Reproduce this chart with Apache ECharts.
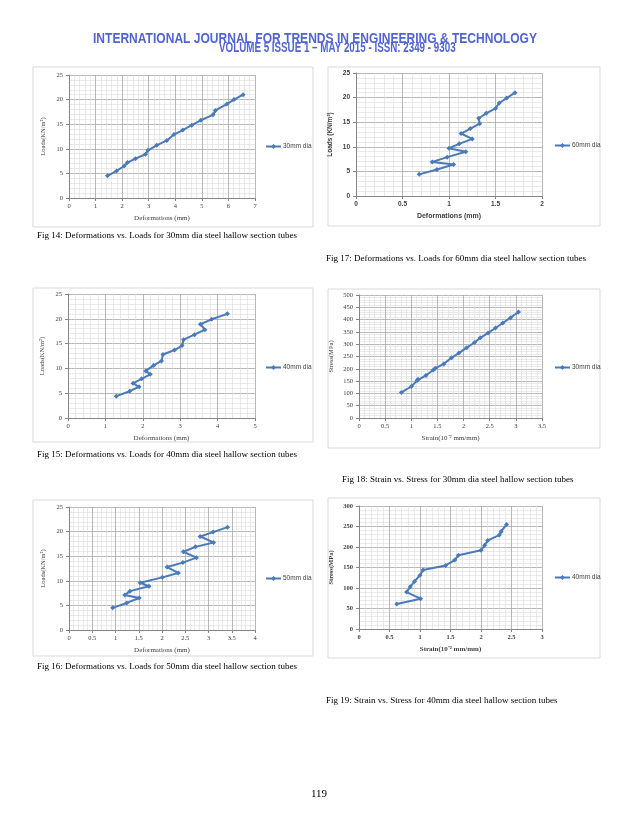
<!DOCTYPE html>
<html><head><meta charset="utf-8">
<script src="https://cdn.jsdelivr.net/npm/echarts@6/dist/echarts.min.js"></script>
<style>html,body{margin:0;padding:0;background:#fff}#c{width:638px;height:826px}</style>
</head><body><div id="c"></div>
<script>
// Fig 14: 30mm dia deformation vs load
const def30 = [1.45,1.79,2.08,2.2,2.5,2.88,2.97,3.3,3.68,3.95,4.28,4.62,4.96,5.42,5.51,5.94,6.21,6.55];
const loads30 = [4.5,5.5,6.5,7.2,8.0,8.9,9.7,10.7,11.7,12.9,13.8,14.8,15.8,16.9,17.8,19.1,20.0,21.0];
// Fig 17: 60mm dia
const def60 = [0.68,0.87,1.05,0.82,0.98,1.18,1.0,1.11,1.25,1.13,1.23,1.33,1.32,1.40,1.50,1.54,1.62,1.71];
const loads60 = [4.4,5.4,6.4,6.9,7.9,9.0,9.7,10.6,11.6,12.7,13.7,14.7,15.8,16.8,17.8,18.9,19.9,21.0];
// Fig 15: 40mm dia
const def40 = [1.29,1.65,1.90,1.74,1.97,2.20,2.08,2.29,2.50,2.54,2.85,3.05,3.09,3.38,3.66,3.54,3.84,4.26];
const loads40 = [4.4,5.4,6.3,7.0,7.9,8.8,9.5,10.6,11.5,12.8,13.7,14.6,15.8,16.8,17.8,18.9,19.9,21.0];
// Fig 18: 30mm strain vs stress
const strain30 = [0.81,1.0,1.11,1.13,1.28,1.42,1.46,1.62,1.77,1.91,2.06,2.21,2.32,2.47,2.61,2.75,2.90,3.05];
const stress30 = [104,128,152,158,173,195,202,220,245,264,286,307,326,346,366,386,408,431];
// Fig 16: 50mm dia
const def50 = [0.94,1.24,1.51,1.20,1.31,1.72,1.53,2.01,2.35,2.11,2.45,2.74,2.46,2.72,3.11,2.82,3.10,3.41];
const loads50 = [4.5,5.5,6.5,7.1,7.9,8.9,9.6,10.7,11.6,12.8,13.7,14.7,15.9,16.9,17.8,19.0,19.9,20.9];
// Fig 19: 40mm strain vs stress
const strain40 = [0.62,1.01,0.78,0.84,0.91,1.0,1.05,1.42,1.57,1.63,2.0,2.06,2.11,2.30,2.33,2.42];
const stress40 = [61,74,90,103,116,131,144,155,168,180,192,204,216,229,238,255];

const headerLine1 = "INTERNATIONAL JOURNAL FOR TRENDS IN ENGINEERING & TECHNOLOGY";
const headerLine2 = "VOLUME 5 ISSUE 1 \u2013 MAY 2015 - ISSN: 2349 - 9303";
const captions = [
  "Fig 14: Deformations vs. Loads for 30mm dia steel hallow section tubes",
  "Fig 17: Deformations vs. Loads for 60mm dia steel hallow section tubes",
  "Fig 15: Deformations vs. Loads for 40mm dia steel hallow section tubes",
  "Fig 18: Strain vs. Stress for 30mm dia steel hallow section tubes",
  "Fig 16: Deformations vs. Loads for 50mm dia steel hallow section tubes",
  "Fig 19: Strain vs. Stress for 40mm dia steel hallow section tubes"
];
const pageNumber = "119";

const SERIF = "'Liberation Serif','Times New Roman',serif";
const SANS = "'Liberation Sans',Arial,sans-serif";
const LINE = '#4a7ab8';

const charts = [
  {name:'30mm dia', xs:def30, ys:loads30, grid:[69,75,186,123], xmax:7, xint:1, ymax:25, yint:5,
   xname:'Deformations (mm)', yname:'Loads(KN/m\u00b2)', font:SERIF, bold:false, legend:[265,143], frame:[33,67,280,160]},
  {name:'60mm dia', xs:def60, ys:loads60, grid:[356,73,186,123], xmax:2, xint:0.5, ymax:25, yint:5,
   xname:'Deformations (mm)', yname:'Loads (KN/m\u00b2)', font:SANS, bold:true, legend:[554,142], frame:[328,67,272,159]},
  {name:'40mm dia', xs:def40, ys:loads40, grid:[68,294,187,124], xmax:5, xint:1, ymax:25, yint:5,
   xname:'Deformations (mm)', yname:'Loads(KN/m\u00b2)', font:SERIF, bold:false, legend:[265,364], frame:[33,288,280,154]},
  {name:'30mm dia', xs:strain30, ys:stress30, grid:[359,295,183,123], xmax:3.5, xint:0.5, ymax:500, yint:50,
   xname:'Strain(10\u207b\u00b2 mm/mm)', yname:'Stress(MPa)', font:SERIF, bold:false, legend:[554,364], frame:[328,289,272,159]},
  {name:'50mm dia', xs:def50, ys:loads50, grid:[69,507,186,123], xmax:4, xint:0.5, ymax:25, yint:5,
   xname:'Deformations (mm)', yname:'Loads(KN/m\u00b2)', font:SERIF, bold:false, legend:[265,575], frame:[33,500,280,156]},
  {name:'40mm dia', xs:strain40, ys:stress40, grid:[359,506,183,123], xmax:3, xint:0.5, ymax:300, yint:50,
   xname:'Strain(10\u207b\u00b2 mm/mm)', yname:'Stress(MPa)', font:SERIF, bold:true, legend:[554,574], frame:[328,498,272,160]}
];

const grid = [], xAxis = [], yAxis = [], series = [], legend = [], graphic = [];
charts.forEach((c, i) => {
  graphic.push({type:'rect', z:-10, shape:{x:c.frame[0], y:c.frame[1], width:c.frame[2], height:c.frame[3]},
    style:{fill:'#fff', stroke:'#d9d9d9', lineWidth:1}});
  grid.push({left:c.grid[0], top:c.grid[1], width:c.grid[2], height:c.grid[3], containLabel:false});
  const lab = {fontFamily:c.font, fontSize:6.5, color:'#404040', fontWeight:c.bold?'bold':'normal'};
  xAxis.push({type:'value', gridIndex:i, min:0, max:c.xmax, interval:c.xint,
    axisLine:{show:true, onZero:false, lineStyle:{color:'#868686', width:1}},
    axisTick:{show:true, length:3, lineStyle:{color:'#868686'}},
    axisLabel:Object.assign({margin:5}, lab),
    splitLine:{show:true, lineStyle:{color:'#a6a6a6', width:0.8}},
    minorTick:{show:false, splitNumber:5},
    minorSplitLine:{show:true, lineStyle:{color:'#dcdcdc', width:0.6}},
    name:c.xname, nameLocation:'middle', nameGap:17,
    nameTextStyle:Object.assign({}, lab, {fontSize:7})});
  yAxis.push({type:'value', gridIndex:i, min:0, max:c.ymax, interval:c.yint,
    axisLine:{show:true, onZero:false, lineStyle:{color:'#868686', width:1}},
    axisTick:{show:true, length:3, lineStyle:{color:'#868686'}},
    axisLabel:Object.assign({margin:6}, lab),
    splitLine:{show:true, lineStyle:{color:'#a6a6a6', width:0.8}},
    minorTick:{show:false, splitNumber:5},
    minorSplitLine:{show:true, lineStyle:{color:'#dcdcdc', width:0.6}},
    name:c.yname, nameLocation:'middle', nameGap:c.ymax>100?24:22, nameRotate:90,
    nameTextStyle:Object.assign({}, lab, {fontSize:6.5})});
  series.push({type:'line', name:c.name, xAxisIndex:i, yAxisIndex:i,
    data:c.xs.map((x, k) => [x, c.ys[k]]),
    symbol:'diamond', symbolSize:5, showSymbol:true,
    lineStyle:{color:LINE, width:2}, itemStyle:{color:LINE}, animation:false});
  legend.push({left:c.legend[0], top:c.legend[1], data:[c.name], itemWidth:15, itemHeight:6, itemGap:2,
    selectedMode:false, textStyle:{fontSize:6.5, fontFamily:SANS, color:'#404040', padding:[0,0,0,-3]}, padding:0});
});

const capPos = [[37,231],[326,254],[37,450],[342,475],[37,662],[326,696]];
captions.forEach((t, i) => {
  graphic.push({type:'text', left:capPos[i][0], top:capPos[i][1],
    style:{text:t, font:"9px 'Liberation Serif','Times New Roman',serif", fill:'#000'}});
});
const HFONT = "bold 14px 'Liberation Sans Narrow','Arial Narrow','Liberation Sans',sans-serif";
graphic.push({type:'text', x:93, y:32, scaleX:0.86, style:{text:headerLine1, font:HFONT, fill:'#5064d4'}});
graphic.push({type:'text', x:219, y:41, scaleX:0.70, style:{text:headerLine2, font:HFONT, fill:'#5064d4'}});
graphic.push({type:'text', left:'center', top:789, style:{text:pageNumber,
  font:"11px 'Liberation Serif','Times New Roman',serif", fill:'#000'}});

const chart = echarts.init(document.getElementById('c'), null, {renderer:'canvas'});
chart.setOption({backgroundColor:'#fff', animation:false, grid, xAxis, yAxis, series, legend, graphic});
</script></body></html>
